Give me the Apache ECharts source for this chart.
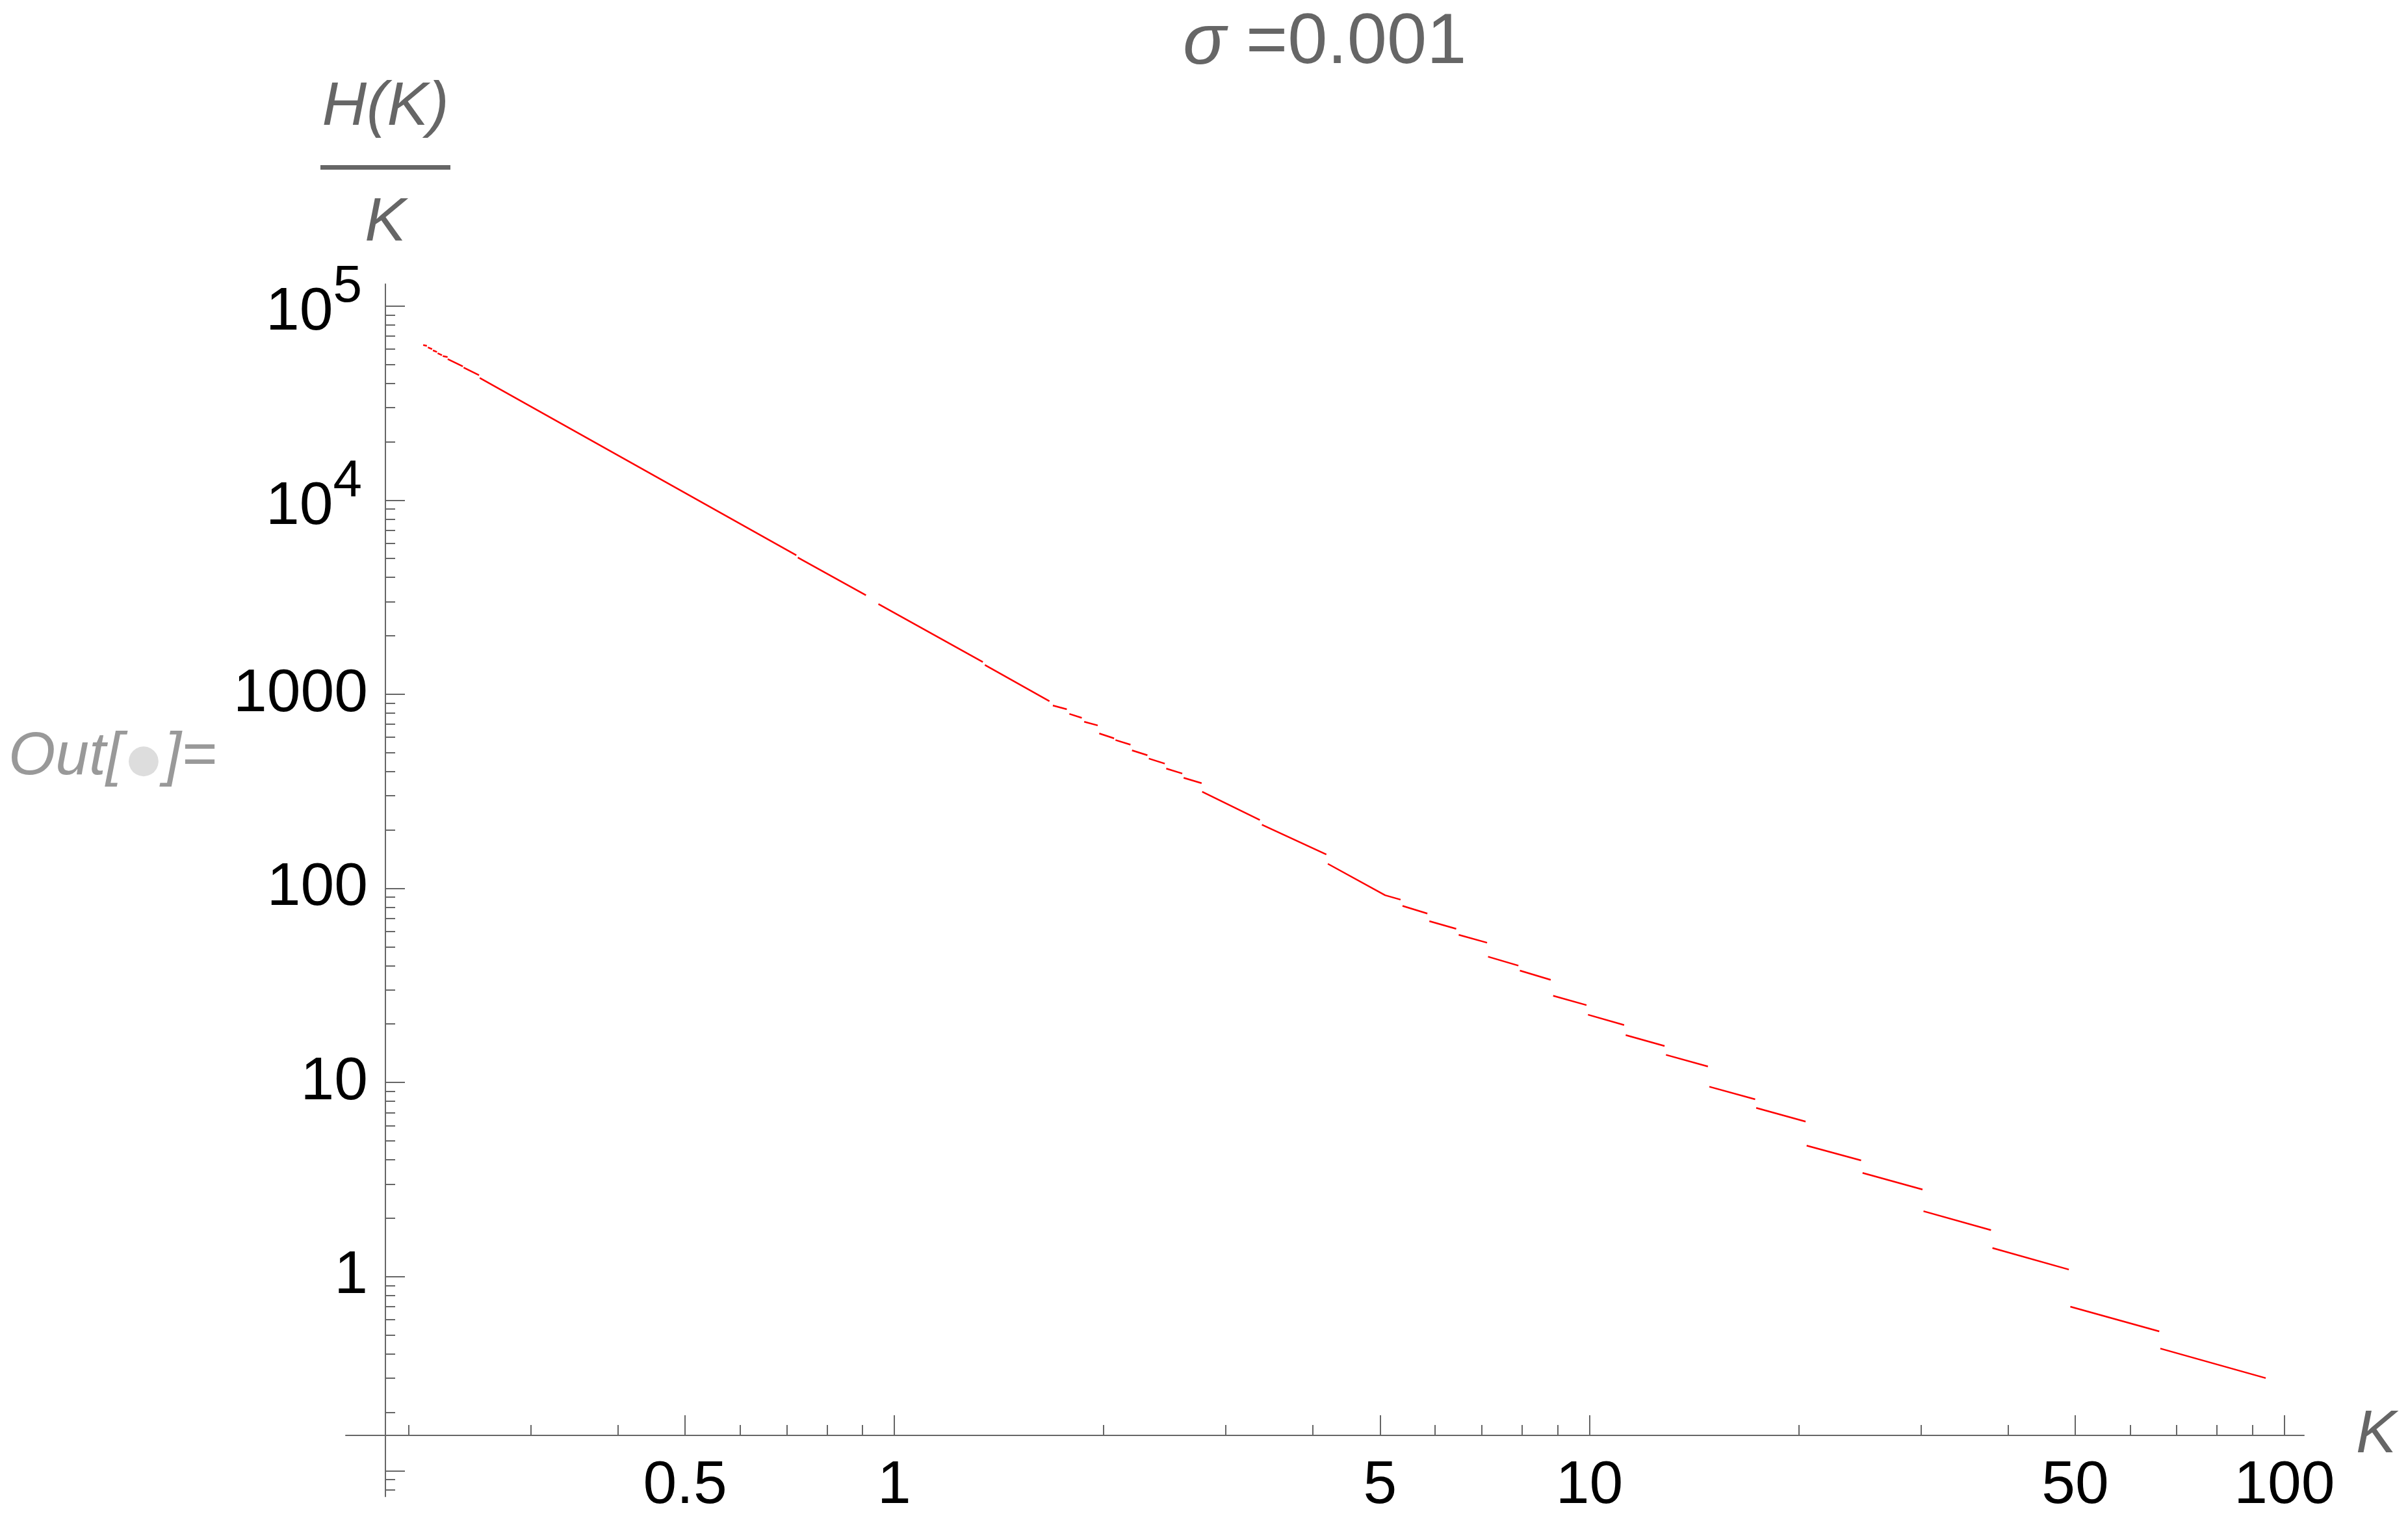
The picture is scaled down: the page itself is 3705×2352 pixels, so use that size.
<!DOCTYPE html>
<html>
<head>
<meta charset="utf-8">
<script src="https://cdn.jsdelivr.net/npm/echarts@6/dist/echarts.min.js"></script>
<style>
html,body{margin:0;padding:0;background:#ffffff;}
#chart{width:3705px;height:2352px;}
</style>
</head>
<body>
<div id="chart"></div>
<script>
// ---- data (null separates the disconnected pieces) ----
const K_VALUES = [
  0.2100, 0.2126, null,
  0.2133, 0.2163, null,
  0.2169, 0.2198, null,
  0.2203, 0.2235, null,
  0.2241, 0.2277, null,
  0.2278, 0.2395, null,
  0.2401, 0.2527, null,
  0.2533, 0.7229, null,
  0.7265, 0.9104, null,
  0.9488, 1.341, null,
  1.350, 1.672, null,
  1.691, 1.771, null,
  1.786, 1.861, null,
  1.876, 1.962, null,
  1.972, 2.071, null,
  2.081, 2.187, null,
  2.198, 2.313, null,
  2.324, 2.450, null,
  2.462, 2.596, null,
  2.608, 2.768, null,
  2.773, 3.357, null,
  3.380, 4.184, null,
  4.205, 5.084, 5.350, null,
  5.385, 5.847, null,
  5.886, 6.433, null,
  6.487, 7.126, null,
  7.149, 7.905, null,
  7.944, 8.798, null,
  8.870, 9.906, null,
  9.955, 11.22, null,
  11.28, 12.83, null,
  12.89, 14.81, null,
  14.88, 17.32, null,
  17.38, 20.47, null,
  20.54, 24.60, null,
  24.72, 30.15, null,
  30.25, 37.83, null,
  38.01, 48.96, null,
  49.20, 66.06, null,
  66.29, 93.99
];
const H_OVER_K = [
  62950, 62330, null,
  61240, 59980, null,
  59060, 58020, null,
  57140, 55830, null,
  55220, 54550, null,
  53300, 48820, null,
  48220, 44060, null,
  42630, 5203, null,
  5060, 3235, null,
  2917, 1466, null,
  1415, 920.2, null,
  874.5, 837.5, null,
  792.3, 755.9, null,
  721.3, 690.8, null,
  628.2, 592.5, null,
  580.7, 549.7, null,
  514.0, 484.9, null,
  466.2, 439.3, null,
  414.3, 390.4, null,
  371.0, 348.3, null,
  314.4, 225.1, null,
  212.9, 149.4, null,
  133.8, 92.13, 87.50, null,
  81.21, 74.19, null,
  67.78, 61.88, null,
  57.66, 52.48, null,
  44.48, 39.99, null,
  37.69, 33.79, null,
  27.97, 25.04, null,
  22.34, 19.78, null,
  17.55, 15.41, null,
  13.88, 12.09, null,
  9.514, 8.192, null,
  7.398, 6.293, null,
  4.727, 3.967, null,
  3.421, 2.811, null,
  2.173, 1.735, null,
  1.403, 1.087, null,
  0.6996, 0.5221, null,
  0.4261, 0.3000
];
const X_RANGE = [0.1625, 106.7];
const Y_RANGE = [0.07365, 129700];
const X_MAJOR_TICKS = [0.5, 1, 5, 10, 50, 100];
const X_MINOR_TICKS = [0.2, 0.3, 0.4, 0.6, 0.7, 0.8, 0.9, 2, 3, 4, 6, 7, 8, 9, 20, 30, 40, 60, 70, 80, 90];
const Y_MAJOR_TICKS = [0.1, 1, 10, 100, 1000, 10000, 100000];
const Y_LABEL_VALUES = [1, 10, 100, 1000, 10000, 100000];
const Y_MINOR_TICKS = [0.08, 0.09,
  0.2, 0.3, 0.4, 0.5, 0.6, 0.7, 0.8, 0.9,
  2, 3, 4, 5, 6, 7, 8, 9,
  20, 30, 40, 50, 60, 70, 80, 90,
  200, 300, 400, 500, 600, 700, 800, 900,
  2000, 3000, 4000, 5000, 6000, 7000, 8000, 9000,
  20000, 30000, 40000, 50000, 60000, 70000, 80000, 90000];

// ---- build ----
const seriesData = K_VALUES.map((k, i) => (k === null ? ['-', '-'] : [k, H_OVER_K[i]]));

const FONT = '"Liberation Sans", Arial, sans-serif';
const GRAY = '#666666';
const axisLineStyle = { color: GRAY, width: 2 };

const grid = { left: 532, right: 160, top: 437, bottom: 50, containLabel: false, outerBoundsMode: 'none' };

const chart = echarts.init(document.getElementById('chart'), null, { renderer: 'canvas' });
chart.setOption({
  backgroundColor: '#ffffff',
  animation: false,
  title: {
    text: '{s|σ} =0.001',
    left: 1820,
    top: 12,
    padding: 0,
    textStyle: {
      fontFamily: FONT, fontSize: 110, fontWeight: 'normal', color: GRAY, lineHeight: 110,
      rich: { s: { fontFamily: FONT, fontSize: 110, fontStyle: 'italic', color: GRAY, lineHeight: 110 } }
    }
  },
  grid: grid,
  xAxis: [
    {
      type: 'log', logBase: 10, min: X_RANGE[0], max: X_RANGE[1],
      position: 'bottom', offset: -94,
      name: 'K', nameLocation: 'end', nameGap: 80, nameMoveOverlap: false,
      nameTextStyle: { fontFamily: FONT, fontSize: 93, fontStyle: 'italic', color: GRAY, verticalAlign: 'middle' },
      axisLine: { show: true, onZero: false, lineStyle: axisLineStyle },
      axisTick: { show: true, inside: true, length: 31, customValues: X_MAJOR_TICKS, lineStyle: { color: GRAY, width: 2 } },
      minorTick: { show: false },
      axisLabel: { show: true, customValues: X_MAJOR_TICKS, margin: 32, fontFamily: FONT, fontSize: 93, lineHeight: 93, color: '#000000',
        formatter: v => String(Math.round(v * 10) / 10) },
      splitLine: { show: false }
    },
    {
      type: 'log', logBase: 10, min: X_RANGE[0], max: X_RANGE[1],
      position: 'bottom', offset: -94,
      axisLine: { show: false, onZero: false },
      axisTick: { show: true, inside: true, length: 16, customValues: X_MINOR_TICKS, lineStyle: { color: GRAY, width: 2 } },
      axisLabel: { show: false },
      splitLine: { show: false }
    }
  ],
  yAxis: [
    {
      type: 'log', logBase: 10, min: Y_RANGE[0], max: Y_RANGE[1],
      position: 'left', offset: -61,
      name: '{n|H(K)}\n{bar|}\n{d|K}', nameLocation: 'end', nameGap: 10, nameMoveOverlap: false,
      nameTextStyle: {
        align: 'center',
        rich: {
          n: { fontFamily: FONT, fontSize: 95, fontStyle: 'italic', color: GRAY, lineHeight: 176, align: 'center' },
          bar: { width: 200, height: 7, lineHeight: 7, backgroundColor: GRAY, align: 'center' },
          d: { fontFamily: FONT, fontSize: 95, fontStyle: 'italic', color: GRAY, lineHeight: 166, align: 'center' }
        }
      },
      axisLine: { show: true, onZero: false, lineStyle: axisLineStyle },
      axisTick: { show: true, inside: true, length: 30, customValues: Y_MAJOR_TICKS, lineStyle: { color: GRAY, width: 2 } },
      minorTick: { show: false },
      axisLabel: {
        show: true, customValues: Y_LABEL_VALUES, margin: 27, fontFamily: FONT, fontSize: 93, color: '#000000',
        formatter: function (v) {
          const e = Math.round(Math.log10(v));
          if (e >= 4) return '{b|10}{s|' + e + '}';
          return String(Math.round(v));
        },
        rich: {
          b: { fontFamily: FONT, fontSize: 93, lineHeight: 115, color: '#000000', verticalAlign: 'bottom' },
          s: { fontFamily: FONT, fontSize: 80, lineHeight: 80, color: '#000000', padding: [0, 9, 46, 0], verticalAlign: 'bottom' }
        }
      },
      splitLine: { show: false }
    },
    {
      type: 'log', logBase: 10, min: Y_RANGE[0], max: Y_RANGE[1],
      position: 'left', offset: -61,
      axisLine: { show: false, onZero: false },
      axisTick: { show: true, inside: true, length: 15, customValues: Y_MINOR_TICKS, lineStyle: { color: GRAY, width: 2 } },
      axisLabel: { show: false },
      splitLine: { show: false }
    }
  ],
  graphic: [
    {
      type: 'text', x: 13, y: 1165,
      style: {
        text: 'Out[{dot|●}]=',
        fontFamily: FONT, fontSize: 93, fontStyle: 'italic', fill: '#999999',
        verticalAlign: 'middle', align: 'left',
        rich: { dot: { fontFamily: '"DejaVu Sans"', fontSize: 60, fontStyle: 'normal', fill: '#dddddd', color: '#dddddd', padding: [12, 6, 0, 6] } }
      }
    }
  ],
  series: [
    {
      type: 'line',
      xAxisIndex: 0, yAxisIndex: 0,
      data: seriesData,
      showSymbol: false,
      connectNulls: false,
      lineStyle: { color: '#ff0000', width: 2.5 },
      itemStyle: { color: '#ff0000' },
      emphasis: { disabled: true },
      silent: true
    }
  ]
});
</script>
</body>
</html>
